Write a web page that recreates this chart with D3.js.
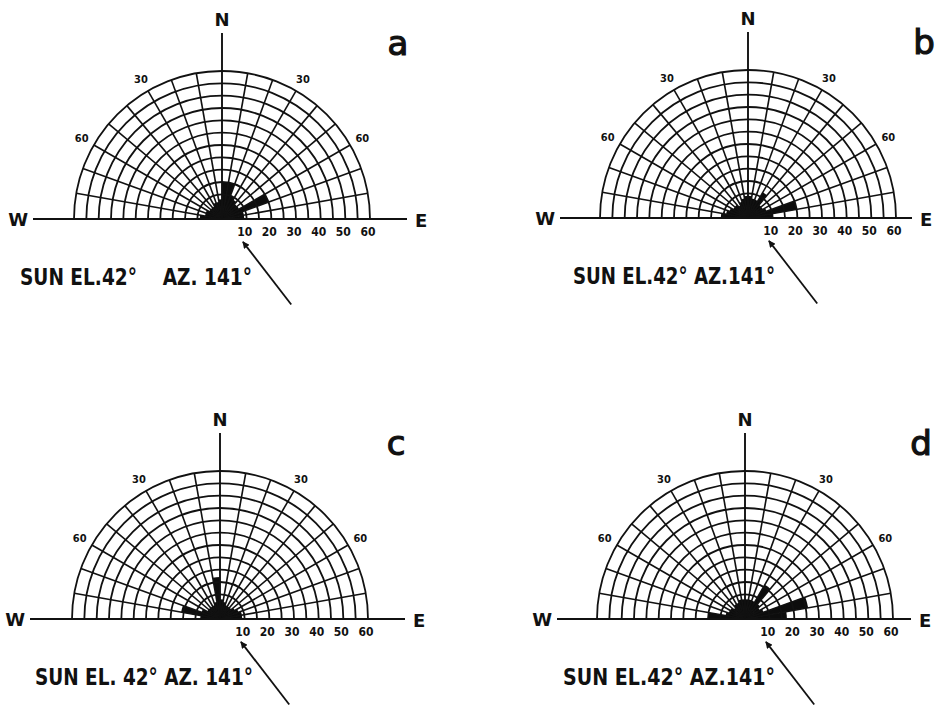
<!DOCTYPE html>
<html>
<head>
<meta charset="utf-8">
<script src="https://cdn.jsdelivr.net/npm/d3@7"></script>
<style>
  body { margin: 0; background: #fff; }
  svg text { fill: #111; }
</style>
</head>
<body>
<div id="chart"></div>
<script>
// 10 degree sectors, start azimuth of each one, from W (-90) round to E (+80)
var sectors = d3.range(-90, 90, 10);

// sector lengths (0-60 scale) read for each panel, W -> E
var valuesA = [9, 7, 7, 6, 6, 6, 7, 7, 8, 15, 15, 10, 9, 8, 8, 20, 9, 9];
var valuesB = [11, 9, 8, 7, 7, 6, 7, 8, 9, 9, 8, 8, 12, 7, 7, 8, 20, 10];
var valuesC = [8, 16, 8, 6, 6, 6, 6, 7, 17, 8, 7, 6, 6, 6, 7, 8, 9, 9];
var valuesD = [15, 8, 7, 7, 6, 7, 7, 8, 8, 8, 8, 8, 16, 8, 7, 8, 26, 17];

var panelNames = ["a", "b", "c", "d"];
var panelValues = [valuesA, valuesB, valuesC, valuesD];

// grid and labels
var ringSteps = d3.range(5, 65, 5);
var spokeAngles = d3.range(-80, 90, 10).filter(d => d !== 0);
var radialTicks = [10, 20, 30, 40, 50, 60];
var angleTicks = [-60, -30, 30, 60];
var sunAzimuth = 141;
var sunTexts = ["SUN EL.42°    AZ. 141°", "SUN EL.42° AZ.141°", "SUN EL. 42° AZ. 141°", "SUN EL.42° AZ.141°"];

var width = 948, height = 709;
var outerR = 148;

// where each panel's centre sits on the page, and how far the base line runs
var layout = [
    { cx: 222, cy: 219, west: 189, east: 185, textX: 20, textW: 232 },
    { cx: 748, cy: 218, west: 188, east: 164, textX: 573, textW: 202 },
    { cx: 220, cy: 619, west: 190, east: 185, textX: 35, textW: 218 },
    { cx: 745, cy: 619, west: 188, east: 166, textX: 563, textW: 212 }
];

var r = d3.scaleLinear().domain([0, 60]).range([0, outerR]);
var ang = d3.scaleLinear().domain([-90, 90]).range([-Math.PI / 2, Math.PI / 2]);

var svg = d3.select("#chart").append("svg")
    .attr("width", width)
    .attr("height", height);

var defs = svg.append("defs");
defs.append("marker")
    .attr("id", "head")
    .attr("viewBox", "0 0 10 10")
    .attr("refX", 9).attr("refY", 5)
    .attr("markerWidth", 7).attr("markerHeight", 7)
    .attr("markerUnits", "userSpaceOnUse")
    .attr("orient", "auto")
    .append("path")
    .attr("d", "M0,0 L10,5 L0,10 Z")
    .attr("fill", "#111");

var wedge = d3.arc().innerRadius(0);

function drawPanel(i) {
    var pos = layout[i];
    var values = panelValues[i];
    var g = svg.append("g").attr("transform", `translate(${pos.cx},${pos.cy})`);

    // rose wedges
    g.selectAll(".wedge")
        .data(sectors)
        .enter().append("path")
        .attr("class", "wedge")
        .attr("d", (d, j) => wedge({
            outerRadius: r(values[j]),
            startAngle: ang(d),
            endAngle: ang(d + 10)
        }))
        .attr("fill", "#0d0d0d");

    // concentric rings
    g.selectAll(".ring")
        .data(ringSteps)
        .enter().append("path")
        .attr("class", "ring")
        .attr("d", d => {
            var p = d3.path();
            p.arc(0, 0, r(d), Math.PI, 2 * Math.PI);
            return p.toString();
        })
        .attr("fill", "none")
        .attr("stroke", "#111")
        .attr("stroke-width", 1.8);

    // spokes every 10 degrees
    g.selectAll(".spoke")
        .data(spokeAngles)
        .enter().append("line")
        .attr("class", "spoke")
        .attr("x1", 0).attr("y1", 0)
        .attr("x2", d => r(60) * Math.sin(ang(d)))
        .attr("y2", d => -r(60) * Math.cos(ang(d)))
        .attr("stroke", "#111")
        .attr("stroke-width", 1.6);

    // W-E base line and N axis
    g.append("line")
        .attr("x1", -pos.west).attr("x2", pos.east).attr("y1", 0).attr("y2", 0)
        .attr("stroke", "#111").attr("stroke-width", 1.9);
    g.append("line")
        .attr("x1", 0).attr("x2", 0).attr("y1", 0).attr("y2", -186)
        .attr("stroke", "#111").attr("stroke-width", 1.9);

    g.append("text").attr("x", 0).attr("y", -193)
        .attr("text-anchor", "middle")
        .style("font", "bold 18px 'DejaVu Sans'")
        .text("N");
    g.append("text").attr("x", -pos.west - 5).attr("y", 7)
        .attr("text-anchor", "end")
        .style("font", "bold 18px 'DejaVu Sans'")
        .text("W");
    g.append("text").attr("x", pos.east + 8).attr("y", 8)
        .attr("text-anchor", "start")
        .style("font", "bold 18px 'DejaVu Sans'")
        .text("E");

    // distance ticks under the base line
    g.selectAll(".rtick")
        .data(radialTicks)
        .enter().append("text")
        .attr("class", "rtick")
        .attr("x", d => r(d) - 2)
        .attr("y", 17)
        .attr("text-anchor", "middle")
        .style("font", "bold 12px 'DejaVu Sans Condensed'")
        .text(d => d);

    // angle labels on the rim
    g.selectAll(".atick")
        .data(angleTicks)
        .enter().append("text")
        .attr("class", "atick")
        .attr("x", d => (outerR + 14) * Math.sin(ang(d)))
        .attr("y", d => -(outerR + 14) * Math.cos(ang(d)) + 4)
        .attr("text-anchor", "middle")
        .style("font", "bold 11px 'DejaVu Sans Condensed'")
        .text(d => Math.abs(d));

    // panel letter
    g.append("text").attr("x", 176).attr("y", -164)
        .attr("text-anchor", "middle")
        .style("font", "34px 'DejaVu Sans'")
        .style("stroke", "#111").style("stroke-width", 1.2)
        .text(panelNames[i]);

    // sun direction arrow, pointing back toward the centre
    var az = ang(sunAzimuth);
    g.append("line")
        .attr("x1", 110 * Math.sin(az)).attr("y1", -110 * Math.cos(az))
        .attr("x2", 31 * Math.sin(az - 0.06)).attr("y2", -31 * Math.cos(az - 0.06))
        .attr("stroke", "#111").attr("stroke-width", 1.8)
        .attr("marker-end", "url(#head)");

    svg.append("text")
        .attr("x", pos.textX).attr("y", pos.cy + 66)
        .attr("textLength", pos.textW)
        .attr("lengthAdjust", "spacingAndGlyphs")
        .style("white-space", "pre")
        .style("font", "bold 23px 'DejaVu Sans Condensed'")
        .text(sunTexts[i]);
}

panelNames.forEach((n, i) => drawPanel(i));
</script>
</body>
</html>
